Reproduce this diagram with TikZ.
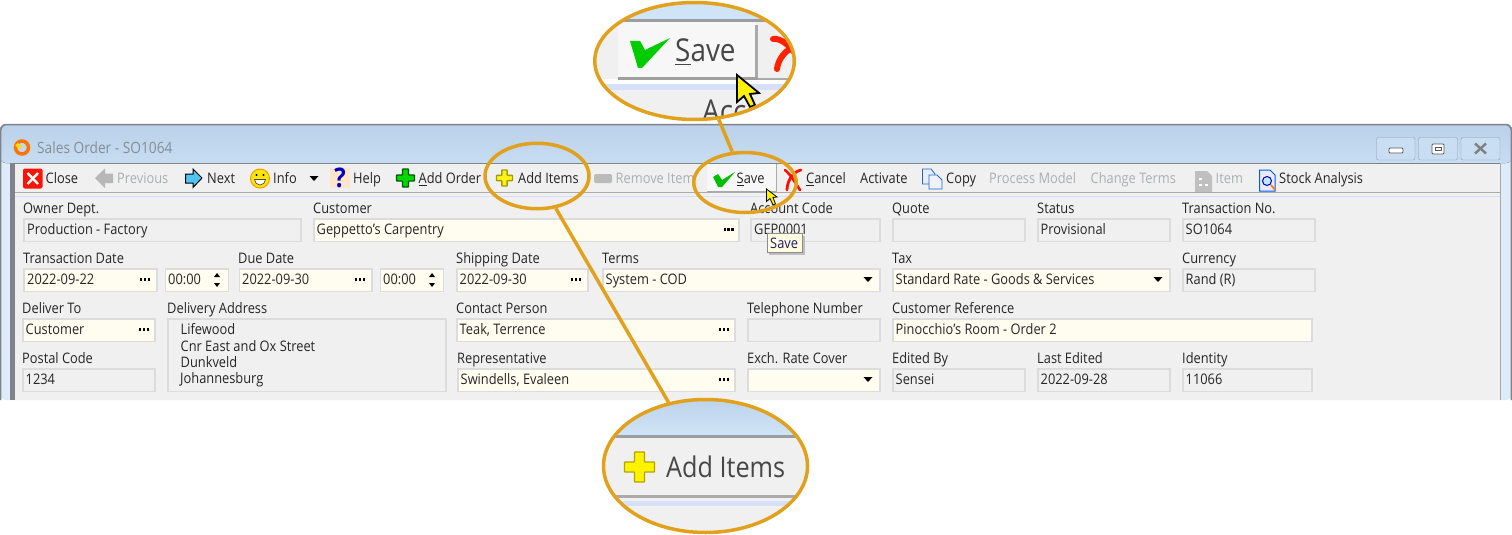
\documentclass[tikz,border=0pt]{standalone}
\usepackage{fontspec}
\setmainfont[FakeStretch=0.885]{Open Sans}
\usetikzlibrary{shapes.geometric}

\definecolor{ringgold}{RGB}{226,161,28}
\definecolor{panelgray}{RGB}{240,240,240}
\definecolor{boxedge}{RGB}{220,220,220}
\definecolor{boxyellow}{RGB}{255,253,240}
\definecolor{inkdark}{RGB}{38,38,38}
\definecolor{inkfaded}{RGB}{170,175,177}
\definecolor{inktitle}{RGB}{132,142,152}
\definecolor{titleblue}{RGB}{186,209,233}
\definecolor{titlepale}{RGB}{208,228,247}
\definecolor{framegray}{RGB}{128,132,138}
\definecolor{rulegray}{RGB}{170,170,170}
\definecolor{ruleblue}{RGB}{214,224,250}

\tikzset{
  labeltext/.style={anchor=base west,inner sep=0pt,text=inkdark,font=\fontsize{14.5}{14.5}\selectfont},
  faded/.style={labeltext,text=inkfaded},
  bigtext/.style={anchor=base west,inner sep=0pt,text=inkdark!85,font=\fontsize{31.5}{31.5}\selectfont},
  grayfield/.style={draw=boxedge,line width=1.3pt,fill=panelgray},
  yellowfield/.style={draw=boxedge,line width=1.3pt,fill=boxyellow},
  ring/.style={ellipse,draw=ringgold,line width=3.5pt,inner sep=0pt},
  link/.style={draw=ringgold,line width=3.5pt}
}

% small helpers for the form, x and y of the middle
\newcommand{\threedots}[2]{
  \fill[black] (#1-5,#2-1.2) rectangle ++(2.4,2.4);
  \fill[black] (#1-1.2,#2-1.2) rectangle ++(2.4,2.4);
  \fill[black] (#1+2.6,#2-1.2) rectangle ++(2.4,2.4);
}
\newcommand{\droparrow}[2]{\fill[black] (#1-4.5,#2-2.5) -- (#1+4.5,#2-2.5) -- (#1,#2+2.5) -- cycle;}
\newcommand{\spinarrows}[2]{
  \fill[black] (#1-3,#2-3) -- (#1+3,#2-3) -- (#1,#2-7) -- cycle;
  \fill[black] (#1-3,#2+3) -- (#1+3,#2+3) -- (#1,#2+7) -- cycle;
}
\newcommand{\plussign}[5]{
  \draw[fill=#4,draw=#5,line width=1.4pt,rounded corners=0.6pt]
    (#1-#3,#2-#3/3) -- (#1-#3/3,#2-#3/3) -- (#1-#3/3,#2-#3) -- (#1+#3/3,#2-#3) -- (#1+#3/3,#2-#3/3)
    -- (#1+#3,#2-#3/3) -- (#1+#3,#2+#3/3) -- (#1+#3/3,#2+#3/3) -- (#1+#3/3,#2+#3)
    -- (#1-#3/3,#2+#3) -- (#1-#3/3,#2+#3/3) -- (#1-#3,#2+#3/3) -- cycle;
}

\begin{document}
\begin{tikzpicture}[x=1pt,y=-1pt]
  \useasboundingbox (0,0) rectangle (1512,535);
  \fill[white] (0,0) rectangle (1512,535);

  % window frame and title bar
  \fill[titlepale!70!white,rounded corners=6pt] (0,124) -- (1512,124) -- (1512,400) -- (0,400) -- cycle;
  \fill[top color=titleblue,bottom color=titlepale!60!titleblue,rounded corners=6pt] (0,124) -- (1512,124) -- (1512,163) -- (0,163) -- cycle;
  \draw[framegray,line width=1.5pt,rounded corners=6pt] (0.7,400) -- (0.7,124.5) -- (1511.3,124.5) -- (1511.3,400);
  \fill[panelgray] (11,163) rectangle (1500,400);
  \fill[framegray] (10,163) rectangle (15,400);
  \fill[framegray] (10,162.5) rectangle (1501,164);
  \fill[framegray!70] (1499.5,163) rectangle (1501,400);
  \fill[panelgray] (15,164) rectangle (1499.5,192);
  \fill[rulegray] (15,191.5) rectangle (1499.5,193);
  \fill[ruleblue] (15,195.5) rectangle (1499.5,197);

  % title
  \draw[orange!90!red,line width=3.5pt] (22,147.5) circle (6.5);
  \draw[yellow!85!orange,line width=3.5pt] (16.5,144) arc (150:100:6.5);
  \node[labeltext,text=inktitle,font=\fontsize{15.5}{15.5}\selectfont] (titletext) at (37,153.5) {Sales Order - SO1064};

  % window buttons
  \draw[titleblue!75!black,fill=titlepale!70!titleblue,rounded corners=2pt] (1376.5,137.5) rectangle (1415,160);
  \draw[titleblue!75!black,fill=titlepale!70!titleblue,rounded corners=2pt] (1418.5,137.5) rectangle (1457.5,160);
  \draw[titleblue!75!black,fill=titlepale!70!titleblue,rounded corners=2pt] (1461,137.5) rectangle (1500,160);
  \draw[gray!70!black,fill=white,rounded corners=1pt,line width=0.8pt] (1389,148) rectangle (1403,153);
  \draw[gray!70!black,fill=white,rounded corners=1pt,line width=0.8pt] (1432,144) rectangle (1444,154);
  \draw[gray!70!black,line width=1pt] (1435,147) rectangle (1441,150);
  \draw[gray,line width=2.4pt] (1475,143.5) -- (1486,153.5);
  \draw[gray,line width=2.4pt] (1486,143.5) -- (1475,153.5);

  % toolbar icons
  \fill[red!85!orange,rounded corners=2pt] (23,168.5) rectangle (42.5,188.5);
  \draw[white,line width=2.4pt] (27.5,173) -- (38,184);
  \draw[white,line width=2.4pt] (38,173) -- (27.5,184);
  \fill[rulegray!85] (95,178) -- (105,168.5) -- (105,173.5) -- (113,173.5) -- (113,183) -- (105,183) -- (105,188) -- cycle;
  \draw[fill=cyan!70!white,draw=black,line width=1pt] (202,178) -- (193,169) -- (193,174) -- (185.5,174) -- (185.5,183) -- (193,183) -- (193,187.5) -- cycle;
  \draw[fill=yellow!90!orange,draw=orange!80!yellow,line width=1pt] (260,178.5) circle (9.5);
  \fill[black] (256.5,175) circle (1.2);
  \fill[black] (263.5,175) circle (1.2);
  \draw[fill=white,draw=black!70,line width=0.7pt] (254.5,179.5) -- (265.5,179.5) arc (0:180:5.5) -- cycle;
  \droparrow{314}{178.5}
  \fill[orange!20!white] (330,168) rectangle (350,188);
  \node[anchor=center,inner sep=0pt,text=blue!75!black,font=\fontsize{27}{27}\selectfont\bfseries] (helpmark) at (340,178) {?};
  \plussign{405.5}{178}{9}{green!85!black}{green!35!black}
  \plussign{504.5}{178}{8}{yellow!90!white}{olive!80!yellow}
  \fill[rulegray!80,rounded corners=1.5pt] (594,174) rectangle (612,183);

  % save button
  \fill[white!97!black] (707,164) rectangle (776,191);
  \fill[rulegray] (775.5,164) rectangle (777,192);
  \fill[rulegray] (707,190.5) rectangle (777,192);
  \fill[green!75!black] (713,177) -- (718,174) -- (722,180) -- (735,172) -- (722,187) -- (718,187) -- cycle;
  \draw[red!90!orange,line width=2.6pt,line cap=round] (785,170) .. controls (792,176) and (796,184) .. (800,190);
  \draw[red!90!orange,line width=2.8pt,line cap=round] (801,170) .. controls (792,172) and (787,182) .. (787,190);
  \draw[cyan!50!blue,fill=blue!8!white,line width=0.8pt] (922.5,169) -- (931,169) -- (935,174) -- (935,184) -- (922.5,184) -- cycle;
  \draw[cyan!50!blue,fill=blue!6!white,line width=0.8pt] (929,175) -- (937,175) -- (942,180) -- (942,189) -- (929,189) -- cycle;
  \fill[gray!50] (1195,171) -- (1207,171) -- (1212,176) -- (1212,192) -- (1195,192) -- cycle;
  \fill[white] (1199,178) rectangle (1202,180);
  \fill[white] (1199,184) rectangle (1202,186);
  \fill[white] (1205,184) rectangle (1208,186);
  \draw[blue!65!cyan,fill=blue!8!white,line width=1pt] (1259.5,170) -- (1270,170) -- (1275,175) -- (1275,191) -- (1259.5,191) -- cycle;
  \draw[blue!70!black,fill=cyan!25!white,line width=1pt] (1267,181) circle (4.5);
  \draw[orange,line width=1.8pt] (1271,185) -- (1275,190);

  % toolbar texts
  \node[labeltext] (closetext) at (45.5,183.5) {Close};
  \node[faded] (previoustext) at (117,183.5) {Previous};
  \node[labeltext] (nexttext) at (207,183.5) {Next};
  \node[labeltext] (infotext) at (273,183.5) {Info};
  \node[labeltext] (helptext) at (353,183.5) {Help};
  \node[labeltext] (addordertext) at (418.5,183.5) {\underline{A}dd Order};
  \node[labeltext] (additemstext) at (518,183.5) {Add Items};
  \node[faded] (removetext) at (615.5,183.5) {Remove Item};
  \node[labeltext] (savetext) at (736.5,183.5) {\underline{S}ave};
  \node[labeltext] (canceltext) at (806,183.5) {\underline{C}ancel};
  \node[labeltext] (activatetext) at (860,183.5) {Activate};
  \node[labeltext] (copytext) at (946,183.5) {Copy};
  \node[faded] (processtext) at (989,183.5) {Process Model};
  \node[faded] (changetext) at (1090.5,183.5) {Change Terms};
  \node[faded] (itemtext) at (1215.5,183.5) {Item};
  \node[labeltext] (stocktext) at (1279,183.5) {Stock Analysis};

  % first row
  \node[labeltext] (ownerlabel) at (23,213) {Owner Dept.};
  \draw[grayfield] (24,219) rectangle (301,241.5);
  \node[labeltext] (ownervalue) at (27,234.5) {Production - Factory};
  \node[labeltext] (customerlabel) at (313,213) {Customer};
  \draw[yellowfield] (314,219) rectangle (739,241.5);
  \node[labeltext] (customervalue) at (316.5,234.5) {Geppetto's Carpentry};
  \threedots{728.5}{229.5}
  \node[labeltext] (accountlabel) at (750,213) {Account Code};
  \draw[grayfield] (751,219) rectangle (880,241.5);
  \node[labeltext] (accountvalue) at (754,234.5) {GEP0001};
  \node[labeltext] (quotelabel) at (892,213) {Quote};
  \draw[grayfield] (893,219) rectangle (1025,241.5);
  \node[labeltext] (statuslabel) at (1037,213) {Status};
  \draw[grayfield] (1038,219) rectangle (1170,241.5);
  \node[labeltext] (statusvalue) at (1040.5,234.5) {Provisional};
  \node[labeltext] (numberlabel) at (1182,213) {Transaction No.};
  \draw[grayfield] (1183,219) rectangle (1315,241.5);
  \node[labeltext] (numbervalue) at (1185.5,234.5) {SO1064};

  % second row
  \node[labeltext] (transdatelabel) at (23,263) {Transaction Date};
  \draw[yellowfield] (24,269) rectangle (157,291.5);
  \node[labeltext] (transdatevalue) at (27,284.5) {2022-09-22};
  \threedots{145}{279.5}
  \draw[yellowfield] (165.5,269) rectangle (228.5,291.5);
  \node[labeltext] (transtimevalue) at (168,284.5) {00:00};
  \spinarrows{217}{280}
  \node[labeltext] (duedatelabel) at (238,263) {Due Date};
  \draw[yellowfield] (239.5,269) rectangle (372,291.5);
  \node[labeltext] (duedatevalue) at (242,284.5) {2022-09-30};
  \threedots{360}{279.5}
  \draw[yellowfield] (380.5,269) rectangle (443.5,291.5);
  \node[labeltext] (duetimevalue) at (383,284.5) {00:00};
  \spinarrows{432}{280}
  \node[labeltext] (shiplabel) at (456,263) {Shipping Date};
  \draw[yellowfield] (457,269) rectangle (588,291.5);
  \node[labeltext] (shipvalue) at (459.5,284.5) {2022-09-30};
  \threedots{576}{279.5}
  \node[labeltext] (termslabel) at (602,263) {Terms};
  \draw[yellowfield] (603,269) rectangle (880,291.5);
  \node[labeltext] (termsvalue) at (605.5,284.5) {System - COD};
  \droparrow{868}{279.5}
  \node[labeltext] (taxlabel) at (892,263) {Tax};
  \draw[yellowfield] (893,269) rectangle (1170,291.5);
  \node[labeltext] (taxvalue) at (895.5,284.5) {Standard Rate - Goods \& Services};
  \droparrow{1158}{279.5}
  \node[labeltext] (currencylabel) at (1182,263) {Currency};
  \draw[grayfield] (1183,269) rectangle (1315,291.5);
  \node[labeltext] (currencyvalue) at (1185.5,284.5) {Rand (R)};

  % third row
  \node[labeltext] (deliverlabel) at (22,313) {Deliver To};
  \draw[yellowfield] (23,319) rectangle (155,341.5);
  \node[labeltext] (delivervalue) at (25.5,334.5) {Customer};
  \threedots{144}{329.5}
  \node[labeltext] (addresslabel) at (167,313) {Delivery Address};
  \draw[grayfield] (168,319) rectangle (446,391.5);
  \node[labeltext] (addressone) at (180.5,334.5) {Lifewood};
  \node[labeltext] (addresstwo) at (180.5,351) {Cnr East and Ox Street};
  \node[labeltext] (addressthree) at (180.5,367) {Dunkveld};
  \node[labeltext] (addressfour) at (180,383.5) {Johannesburg};
  \node[labeltext] (contactlabel) at (456,313) {Contact Person};
  \draw[yellowfield] (457,319) rectangle (735,341.5);
  \node[labeltext] (contactvalue) at (459.5,334.5) {Teak, Terrence};
  \threedots{724}{329.5}
  \node[labeltext] (phonelabel) at (747,313) {Telephone Number};
  \draw[grayfield] (748,319) rectangle (880,341.5);
  \node[labeltext] (referencelabel) at (892,313) {Customer Reference};
  \draw[yellowfield] (893,319) rectangle (1312,341.5);
  \node[labeltext] (referencevalue) at (895.5,334.5) {Pinocchio's Room - Order 2};

  % fourth row
  \node[labeltext] (postallabel) at (22,363) {Postal Code};
  \draw[grayfield] (23,369) rectangle (155,391.5);
  \node[labeltext] (postalvalue) at (25.5,384.5) {1234};
  \node[labeltext] (replabel) at (457,363) {Representative};
  \draw[yellowfield] (458,369) rectangle (735,391.5);
  \node[labeltext] (repvalue) at (460.5,384.5) {Swindells, Evaleen};
  \threedots{724}{379.5}
  \node[labeltext] (exchlabel) at (747,363) {Exch. Rate Cover};
  \draw[yellowfield] (748,369) rectangle (880,391.5);
  \droparrow{868}{379.5}
  \node[labeltext] (editedlabel) at (892,363) {Edited By};
  \draw[grayfield] (893,369) rectangle (1025,391.5);
  \node[labeltext] (editedvalue) at (895.5,384.5) {Sensei};
  \node[labeltext] (lastlabel) at (1037,363) {Last Edited};
  \draw[grayfield] (1038,369) rectangle (1170,391.5);
  \node[labeltext] (lastvalue) at (1040.5,384.5) {2022-09-28};
  \node[labeltext] (identitylabel) at (1182,363) {Identity};
  \draw[grayfield] (1183,369) rectangle (1312,391.5);
  \node[labeltext] (identityvalue) at (1185.5,384.5) {11066};

  % tooltip and cursor
  \fill[black!25] (769,236) rectangle (805,255);
  \draw[black!45,fill=yellow!12!white,line width=0.8pt] (767,233.5) rectangle (802.5,252.5);
  \node[labeltext,text=blue!30!inkdark] (tiptext) at (770,248) {Save};
  \draw[black,fill=yellow,line width=0.8pt] (766.5,189) -- (766.5,201.5) -- (770,198.5) -- (773,205) -- (775.5,204) -- (773,197.5) -- (777,197) -- cycle;

  % zoomed view of the save button
  \begin{scope}
    \clip (694.5,61) ellipse (100 and 58.5);
    \fill[white] (590,0) rectangle (800,125);
    \fill[titlepale] (590,0) rectangle (800,20);
    \fill[framegray!80] (590,19.5) rectangle (800,22.5);
    \fill[panelgray] (590,22.5) rectangle (800,79);
    \fill[white!97!black] (618,22.5) rectangle (756,78);
    \fill[rulegray] (755,25) rectangle (757.5,79.5);
    \fill[gray!75] (618,77) rectangle (757.5,80);
    \fill[rulegray] (757.5,77.5) rectangle (800,80);
    \fill[ruleblue] (590,84) rectangle (800,90);
    \fill[panelgray] (590,90) rectangle (800,125);
    \fill[green!80!black] (630,41) -- (640,41) -- (645,50) -- (670,38) -- (642,68) -- (638,68) -- cycle;
    \node[bigtext] (zoomsavetext) at (675,62) {\underline{S}ave};
    \draw[red!75!orange,line width=6pt,line cap=round] (773,39) .. controls (781,38) and (790,45) .. (800,60);
    \draw[red!75!orange,line width=6pt,line cap=round] (800,45) .. controls (785,48) and (778,60) .. (777,69);
    \node[bigtext] (zoomacctext) at (702,122) {Acc};
    \draw[black,fill=yellow,line width=1.8pt] (737,75) -- (737,102) -- (744,96) -- (750,107) -- (755,105) -- (750,94) -- (759,93) -- cycle;
  \end{scope}

  % zoomed view of the add items button
  \begin{scope}
    \clip (705.5,466) ellipse (102 and 66.5);
    \fill[top color=titleblue,bottom color=titlepale] (600,395) rectangle (810,435);
    \fill[framegray!80] (600,434.5) rectangle (810,437.5);
    \fill[panelgray] (600,437.5) rectangle (810,535);
    \fill[rulegray] (600,495) rectangle (810,497.5);
    \fill[ruleblue] (600,501) rectangle (810,506);
    \plussign{639.5}{467}{15}{yellow}{olive!70!yellow}
    \node[bigtext,font=\fontsize{28.5}{28.5}\selectfont] (zoomaddtext) at (666,477) {Add Items};
  \end{scope}

  % rings and their links
  \node[ring,minimum width=104pt,minimum height=65.5pt] (additemsring) at (537,176) {};
  \node[ring,minimum width=102.5pt,minimum height=60pt] (savering) at (745,182.5) {};
  \node[ring,minimum width=199.5pt,minimum height=117pt] (savezoom) at (694.5,61) {};
  \node[ring,minimum width=204pt,minimum height=133pt] (additemszoom) at (705.5,466) {};
  \draw[link] (savezoom) -- (savering);
  \draw[link] (additemsring) -- (additemszoom);
\end{tikzpicture}
\end{document}
